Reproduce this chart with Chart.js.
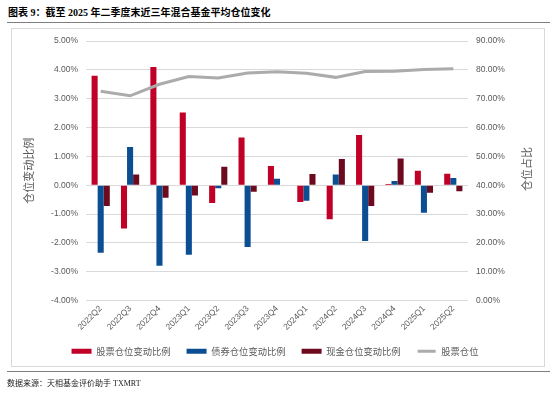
<!DOCTYPE html>
<html><head><meta charset="utf-8">
<script src="https://cdn.jsdelivr.net/npm/chart.js@4"></script>
<style>
body{margin:0;background:#fff;}
#wrap{position:relative;width:550px;height:396px;overflow:hidden;background:#fff;}
#frame{position:absolute;left:11px;top:28px;width:532px;height:337px;border:1px solid #d9d9d9;}
canvas{position:absolute;left:0;top:0;}
.rule{position:absolute;left:7px;width:543px;height:1px;background:#7f7f7f;}
#title{position:absolute;left:8px;top:6px;font:bold 10px "Liberation Serif","Noto Sans CJK SC";color:#000;white-space:nowrap;line-height:13px;}
#src{position:absolute;left:7px;top:378px;font:8px "Liberation Serif","Noto Sans CJK SC";color:#222;white-space:nowrap;line-height:11px;}
</style></head><body>
<div id="wrap">
<div id="title">图表 9：截至 2025 年二季度末近三年混合基金平均仓位变化</div>
<div class="rule" style="top:22px"></div>
<div id="frame"></div>
<canvas id="c" width="550" height="396"></canvas>
<div class="rule" style="top:371px"></div>
<div id="src">数据来源：天相基金评价助手 TXMRT</div>
</div>
<script>
const categories = ['2022Q2','2022Q3','2022Q4','2023Q1','2023Q2','2023Q3','2023Q4','2024Q1','2024Q2','2024Q3','2024Q4','2025Q1','2025Q2'];
const stockChange = [3.80, -1.50, 4.10, 2.52, -0.61, 1.66, 0.67, -0.58, -1.18, 1.74, 0.04, 0.50, 0.40];
const bondChange  = [-2.34, 1.33, -2.79, -2.41, -0.10, -2.14, 0.23, -0.54, 0.37, -1.93, 0.15, -0.95, 0.25];
const cashChange  = [-0.72, 0.37, -0.43, -0.35, 0.64, -0.22, -0.02, 0.39, 0.91, -0.72, 0.93, -0.26, -0.21];
const stockPosition = [72.6, 71.0, 75.0, 77.7, 77.2, 78.9, 79.3, 78.8, 77.4, 79.4, 79.5, 80.1, 80.4];
const seriesNames = ['股票仓位变动比例','债券仓位变动比例','现金仓位变动比例','股票仓位'];
const leftTitle = '仓位变动比例';
const rightTitle = '仓位占比';

const colRed = '#c00027', colBlue = '#0b4f92', colDark = '#6e0a1e', colGrey = '#ababab';
const tickFont = {family:'"Liberation Sans", Arial, sans-serif', size:8.5};
const txtCol = '#595959';

const rightTitlePlugin = {
  id:'rightTitle',
  afterDraw(chart){
    const ctx = chart.ctx;
    ctx.save();
    ctx.translate(526.5, 169);
    ctx.rotate(-Math.PI/2);
    ctx.font = '11px "Noto Sans CJK SC", sans-serif';
    ctx.fillStyle = txtCol;
    ctx.textAlign = 'center';
    ctx.textBaseline = 'middle';
    ctx.fillText(rightTitle, 0, 0);
    ctx.restore();
  }
};

new Chart(document.getElementById('c'), {
  data: {
    labels: categories,
    datasets: [
      {type:'bar', label:seriesNames[0], data:stockChange, backgroundColor:colRed, yAxisID:'y', order:0},
      {type:'bar', label:seriesNames[1], data:bondChange, backgroundColor:colBlue, yAxisID:'y', order:0},
      {type:'bar', label:seriesNames[2], data:cashChange, backgroundColor:colDark, yAxisID:'y', order:0},
      {type:'line', label:seriesNames[3], data:stockPosition, borderColor:colGrey, backgroundColor:colGrey, borderWidth:3, pointRadius:0, tension:0, yAxisID:'y1', order:-1}
    ]
  },
  options: {
    responsive:false,
    animation:false,
    devicePixelRatio:1,
    layout:{padding:{left:0,right:0,top:41,bottom:30}},
    datasets:{bar:{categoryPercentage:0.62, barPercentage:1.0}},
    plugins:{
      tooltip:{enabled:false},
      legend:{
        position:'bottom',
        labels:{
          color:txtCol,
          font:{family:'"Noto Sans CJK SC", sans-serif', size:9.3},
          boxWidth:20, boxHeight:5, padding:16,
          generateLabels(chart){
            return chart.data.datasets.map((ds,i)=>({
              text: ds.label,
              fillStyle: ds.type==='line' ? colGrey : ds.backgroundColor,
              strokeStyle: '#ffffff',
              lineWidth: ds.type==='line' ? 2 : 0,
              hidden:false,
              datasetIndex:i,
              fontColor: txtCol
            }));
          }
        }
      }
    },
    scales:{
      x:{
        grid:{display:false, drawTicks:false},
        border:{display:false},
        ticks:{color:txtCol, font:tickFont, minRotation:45, maxRotation:45, autoSkip:false, padding:3},
        afterFit(s){ s.height = 30; }
      },
      y:{
        position:'left', min:-4, max:5,
        ticks:{stepSize:1, color:txtCol, font:tickFont, padding:8, callback:v=>v.toFixed(2)+'%'},
        grid:{color:'#d9d9d9', lineWidth:1, drawTicks:false},
        border:{display:false},
        title:{display:true, text:leftTitle, color:txtCol, font:{family:'"Noto Sans CJK SC", sans-serif', size:11}, padding:{top:22,bottom:0}},
        afterFit(s){ s.width = 86; }
      },
      y1:{
        position:'right', min:0, max:90,
        ticks:{stepSize:10, color:txtCol, font:tickFont, padding:8, callback:v=>v.toFixed(2)+'%'},
        grid:{display:false, drawTicks:false},
        border:{display:false},
        afterFit(s){ s.width = 82; }
      }
    }
  },
  plugins:[rightTitlePlugin]
});
</script>
</body></html>
